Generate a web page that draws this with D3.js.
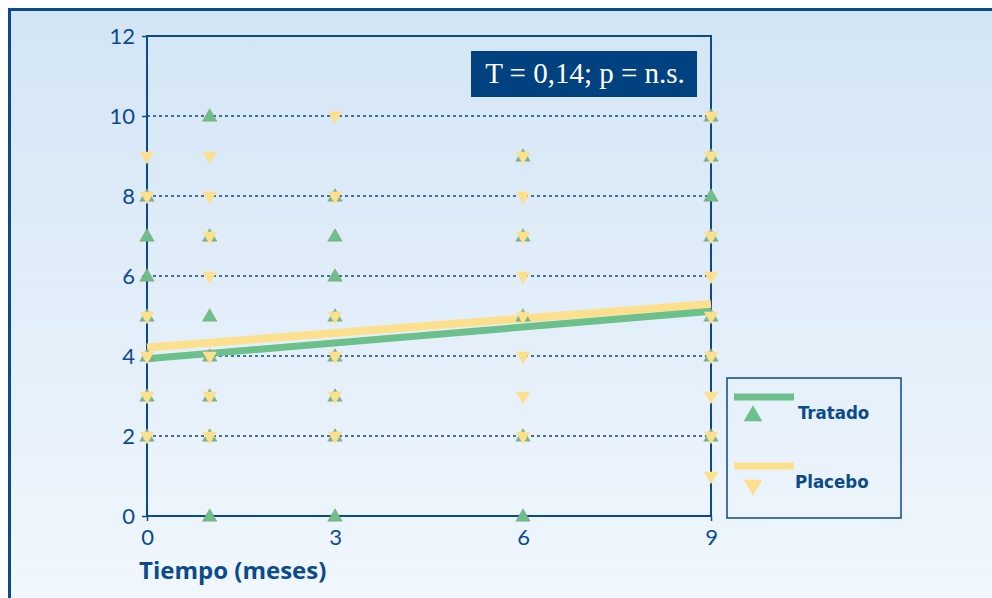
<!DOCTYPE html>
<html><head><meta charset="utf-8">
<script src="https://cdn.jsdelivr.net/npm/d3@7"></script>
<style>body{margin:0;background:#fff}svg{display:block}</style>
</head><body>
<svg id="c" width="992" height="598"></svg>
<script>
// Data
const xTicks = [0, 3, 6, 9];
const yTicks = [0, 2, 4, 6, 8, 10, 12];
const gridValues = [2, 4, 6, 8, 10];
const tratadoX = [0,0,0,0,0,0,0, 1,1,1,1,1,1,1, 3,3,3,3,3,3,3,3, 6,6,6,6,6, 9,9,9,9,9,9,9];
const tratadoY = [8,7,6,5,4,3,2, 10,7,5,4,3,2,0, 8,7,6,5,4,3,2,0, 9,7,5,2,0, 10,9,8,7,5,4,2];
const placeboX = [0,0,0,0,0,0, 1,1,1,1,1,1,1, 3,3,3,3,3,3, 6,6,6,6,6,6,6,6, 9,9,9,9,9,9,9,9,9];
const placeboY = [9,8,5,4,3,2, 9,8,7,6,4,3,2, 10,8,5,4,3,2, 9,8,7,6,5,4,3,2, 10,9,7,6,5,4,3,2,1];
const tratadoFit = [[0, 3.93], [9, 5.12]];
const placeboFit = [[0, 4.21], [9, 5.3]];
const statText = "T = 0,14; p = n.s.";
const xTitle = "Tiempo (meses)";
const legendLabels = ["Tratado", "Placebo"];

const BLUE = "#0b4a8b", GREEN = "#6cc08b", YELLOW = "#fde08e";
const svg = d3.select("#c");
const defs = svg.append("defs");
const g = defs.append("linearGradient").attr("id","bg").attr("x1",0).attr("y1",0).attr("x2",0).attr("y2",1);
g.append("stop").attr("offset","0%").attr("stop-color","#d3e5f5");
g.append("stop").attr("offset","100%").attr("stop-color","#f1f7fd");

svg.append("rect").attr("x",9.5).attr("y",9.5).attr("width",1000).attr("height",600)
  .attr("fill","url(#bg)").attr("stroke",BLUE).attr("stroke-width",3);

const x = d3.scaleLinear().domain([0,9]).range([147,711]);
const y = d3.scaleLinear().domain([0,12]).range([516,36]);

// grid
svg.append("g").selectAll("line").data(gridValues).join("line")
  .attr("x1",x(0)).attr("x2",x(9)).attr("y1",d=>y(d)).attr("y2",d=>y(d))
  .attr("stroke",BLUE).attr("stroke-width",1.6).attr("stroke-dasharray","3,3");

// frame
svg.append("rect").attr("x",x(0)).attr("y",y(12)).attr("width",x(9)-x(0)).attr("height",y(0)-y(12))
  .attr("fill","none").attr("stroke",BLUE).attr("stroke-width",2);

// axes
const yAxis = svg.append("g").attr("transform",`translate(${x(0)},0)`)
  .call(d3.axisLeft(y).tickValues(yTicks).tickSize(5).tickPadding(7));
const xAxis = svg.append("g").attr("transform",`translate(0,${y(0)})`)
  .call(d3.axisBottom(x).tickValues(xTicks).tickSize(5).tickPadding(8));
[yAxis,xAxis].forEach(a=>{
  a.select(".domain").remove();
  a.selectAll("line").attr("stroke",BLUE).attr("stroke-width",1.5);
  a.selectAll("text").attr("fill",BLUE).attr("font-family","Lato, 'Open Sans', sans-serif").attr("font-size",22);
});

// fit lines
const line = d3.line().x(d=>x(d[0])).y(d=>y(d[1]));
svg.append("path").attr("d",line(placeboFit)).attr("stroke",YELLOW).attr("stroke-width",8).attr("fill","none");
svg.append("path").attr("d",line(tratadoFit)).attr("stroke",GREEN).attr("stroke-width",7).attr("fill","none");

// markers
const up = d3.symbol().type(d3.symbolTriangle).size(90);
const tData = tratadoX.map((v,i)=>[v,tratadoY[i]]);
const pData = placeboX.map((v,i)=>[v,placeboY[i]]);
svg.append("g").selectAll("path").data(tData).join("path")
  .attr("d",up).attr("transform",d=>`translate(${x(d[0])},${y(d[1])+1})`)
  .attr("fill",GREEN).attr("stroke","#9a8f6e").attr("stroke-width",0.5);
svg.append("g").selectAll("path").data(pData).join("path")
  .attr("d",up).attr("transform",d=>`translate(${x(d[0])},${y(d[1])}) rotate(180)`)
  .attr("fill",YELLOW);

// stat box
svg.append("rect").attr("x",471).attr("y",51).attr("width",226).attr("height",46).attr("fill","#00417f");
svg.append("text").attr("x",585).attr("y",83).attr("text-anchor","middle")
  .attr("font-family","'Liberation Serif', serif").attr("font-size",29).attr("fill","#fff").text(statText);

// x title
svg.append("text").attr("x",139).attr("y",579).attr("font-family","'Open Sans', sans-serif")
  .attr("font-weight","bold").attr("font-size",24).attr("fill",BLUE).text(xTitle);

// legend
const lg = svg.append("g");
lg.append("rect").attr("x",727).attr("y",378).attr("width",174).attr("height",140)
  .attr("fill","none").attr("stroke",BLUE).attr("stroke-width",1.5);
const legColors = [GREEN, YELLOW];
legendLabels.forEach((lab,i)=>{
  const ly = 397 + i*69;
  lg.append("line").attr("x1",734).attr("x2",794).attr("y1",ly).attr("y2",ly)
    .attr("stroke",legColors[i]).attr("stroke-width",7);
  lg.append("path").attr("d",d3.symbol().type(d3.symbolTriangle).size(150))
    .attr("transform",`translate(753,${ly+19}) rotate(${i?180:0})`).attr("fill",legColors[i]);
  lg.append("text").attr("x",i?795:798).attr("y",ly+22).attr("font-family","'DejaVu Sans', sans-serif")
    .attr("font-stretch","condensed").attr("font-weight","bold").attr("font-size",18.5).attr("fill",BLUE).text(lab);
});
</script>
</body></html>
